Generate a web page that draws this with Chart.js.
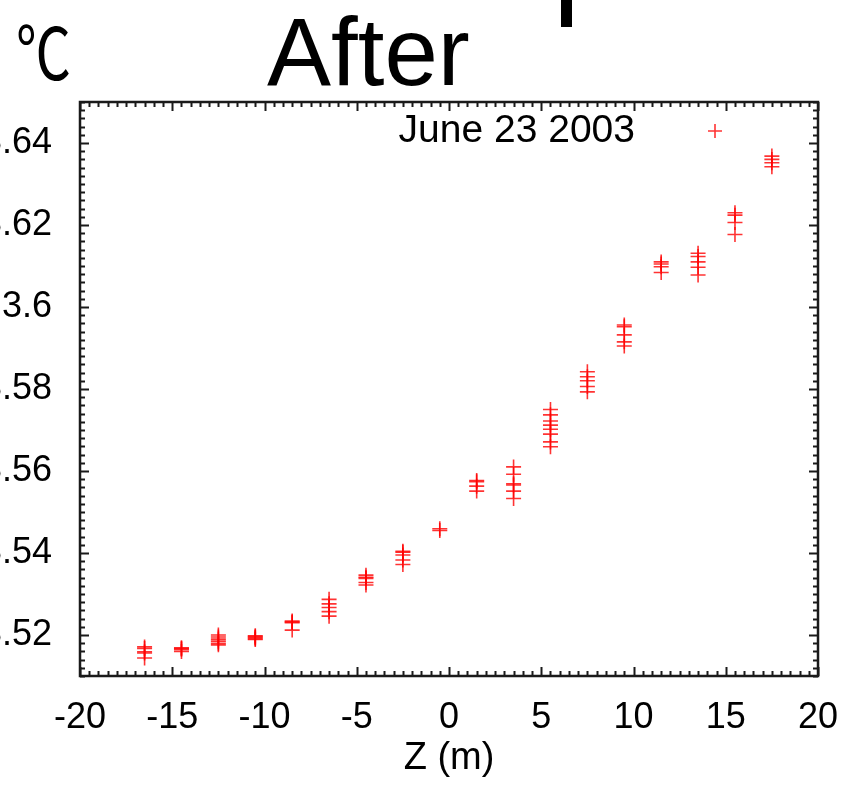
<!DOCTYPE html>
<html>
<head>
<meta charset="utf-8">
<script src="https://cdn.jsdelivr.net/npm/chart.js@4/dist/chart.umd.min.js"></script>
<style>
  html, body { margin: 0; padding: 0; background: #fff; overflow: hidden; }
  body { width: 843px; height: 792px; position: relative; }
  #wrap { position: absolute; left: -20px; top: 0; width: 863px; height: 792px; }
  #unit { position: absolute; left: 16px; top: 12px; font: 58px "Noto Sans CJK JP", sans-serif; line-height: 58px; color: #000; transform: scale(0.95, 1.25); transform-origin: 0 0; }
  #title { position: absolute; left: 267px; top: 4px; font: 96px "Liberation Sans", Arial, sans-serif; line-height: 96px; color: #000; }
  #bar { position: absolute; left: 561px; top: 0; width: 11px; height: 27px; background: #000; }
</style>
</head>
<body>
<div id="unit">℃</div>
<div id="title">After</div>
<div id="bar"></div>
<div id="wrap"><canvas id="chart" width="863" height="792"></canvas></div>
<script>
// depth of each measurement group (m)
const depths = [-16.5, -14.5, -12.5, -10.5, -8.5, -6.5, -4.5, -2.5, -0.5, 1.5, 3.5, 5.5, 7.5, 9.5, 11.5, 13.5, 15.5, 17.5];

// temperatures read at each depth (°C)
const temps = [
    [3.5171, 3.5167, 3.5159, 3.5156, 3.5144],
    [3.5169, 3.5167, 3.5165, 3.5160],
    [3.5200, 3.5195, 3.5190, 3.5185, 3.5180, 3.5176],
    [3.5198, 3.5196, 3.5194, 3.5191, 3.5189],
    [3.5234, 3.5232, 3.5230, 3.5212],
    [3.5287, 3.5276, 3.5267, 3.5257, 3.5246],
    [3.5346, 3.5341, 3.5338, 3.5328, 3.5322],
    [3.5404, 3.5402, 3.5395, 3.5383, 3.5372],
    [3.5459, 3.5455],
    [3.5577, 3.5574, 3.5563, 3.5551],
    [3.5610, 3.5592, 3.5569, 3.5566, 3.5551, 3.5533],
    [3.5750, 3.5737, 3.5722, 3.5712, 3.5702, 3.5690, 3.5671, 3.5659],
    [3.5842, 3.5830, 3.5820, 3.5806, 3.5793],
    [3.5956, 3.5952, 3.5932, 3.5915, 3.5905],
    [3.6110, 3.6105, 3.6098, 3.6084],
    [3.6131, 3.6123, 3.6110, 3.6097, 3.6078],
    [3.6230, 3.6224, 3.6206, 3.6177],
    [3.6368, 3.6360, 3.6352, 3.6342]
];

const seriesLabel = 'June 23 2003';
const xTicks = [-20, -15, -10, -5, 0, 5, 10, 15, 20];
const yTicks = [3.52, 3.54, 3.56, 3.58, 3.60, 3.62, 3.64];

// flatten groups into x/y points
let points = [];
depths.forEach((z, i) => {
    temps[i].forEach(t => {
        points.push({ x: z, y: t });
    });
});

const markColor = 'rgba(255, 0, 0, 0.8)';
const labelFont = { family: '"Liberation Sans", Arial, sans-serif', size: 36 };

// gnuplot style border with inward major/minor ticks, plus the key
const frameTicks = {
    id: 'frameTicks',
    afterDraw(chart) {
        const ctx = chart.ctx;
        const a = chart.chartArea;
        const xs = chart.scales.x;
        const ys = chart.scales.y;
        ctx.save();
        ctx.strokeStyle = '#1a1a1a';
        ctx.lineWidth = 2;

        // x ticks every 0.5, major every 5
        for (let i = 0; i <= 80; i++) {
            const px = Math.round(xs.getPixelForValue(-20 + i * 0.5)) + 0.5;
            const len = (i % 10 === 0) ? 9 : 5;
            ctx.beginPath();
            ctx.moveTo(px, a.bottom); ctx.lineTo(px, a.bottom - len);
            ctx.moveTo(px, a.top); ctx.lineTo(px, a.top + len);
            ctx.stroke();
        }
        // y ticks every 0.002, major every 0.02
        for (let i = 0; i <= 70; i++) {
            const py = Math.round(ys.getPixelForValue(3.51 + i * 0.002)) + 0.5;
            const len = ((i - 5) % 10 === 0) ? 9 : 5;
            ctx.beginPath();
            ctx.moveTo(a.left, py); ctx.lineTo(a.left + len, py);
            ctx.moveTo(a.right, py); ctx.lineTo(a.right - len, py);
            ctx.stroke();
        }
        ctx.lineWidth = 2.5;
        ctx.strokeRect(a.left, a.top, a.right - a.left, a.bottom - a.top);

        // key
        const ky = a.top + 29;
        ctx.fillStyle = '#000';
        ctx.font = '39px "Liberation Sans", Arial, sans-serif';
        ctx.textAlign = 'right';
        ctx.textBaseline = 'middle';
        ctx.fillText(chart.data.datasets[0].label, a.right - 183, ky);
        const kx = a.right - 103;
        ctx.strokeStyle = markColor;
        ctx.lineWidth = 1.6;
        ctx.beginPath();
        ctx.moveTo(kx - 7, ky); ctx.lineTo(kx + 7, ky);
        ctx.moveTo(kx, ky - 7); ctx.lineTo(kx, ky + 7);
        ctx.stroke();
        ctx.restore();
    }
};

new Chart(document.getElementById('chart').getContext('2d'), {
    type: 'scatter',
    data: {
        datasets: [{
            label: seriesLabel,
            data: points,
            pointStyle: 'cross',
            pointRadius: 7.5,
            pointHoverRadius: 7.5,
            borderColor: markColor,
            backgroundColor: markColor,
            borderWidth: 1.6
        }]
    },
    options: {
        responsive: false,
        animation: false,
        devicePixelRatio: 1,
        layout: { padding: { top: 102, right: 25, bottom: 11, left: 0 } },
        scales: {
            x: {
                type: 'linear',
                min: -20,
                max: 20,
                afterBuildTicks: scale => { scale.ticks = xTicks.map(v => ({ value: v })); },
                afterFit: scale => {
                    scale.height = 105;
                    scale.paddingLeft = 0;
                    scale.paddingRight = 0;
                },
                grid: { display: false, drawTicks: false },
                border: { display: false },
                ticks: { font: labelFont, color: '#000', padding: 20, maxRotation: 0 },
                title: { display: true, text: 'Z (m)', font: { family: labelFont.family, size: 38 }, color: '#000', padding: 0 }
            },
            y: {
                type: 'linear',
                min: 3.51,
                max: 3.65,
                afterBuildTicks: scale => { scale.ticks = yTicks.map(v => ({ value: v })); },
                afterFit: scale => {
                    scale.width = 100;
                    scale.paddingTop = 0;
                    scale.paddingBottom = 0;
                },
                grid: { display: false, drawTicks: false },
                border: { display: false },
                ticks: {
                    font: labelFont,
                    color: '#000',
                    padding: 28,
                    callback: v => String(+v.toFixed(2))
                }
            }
        },
        plugins: {
            legend: { display: false },
            tooltip: { enabled: false }
        }
    },
    plugins: [frameTicks]
});
</script>
</body>
</html>
